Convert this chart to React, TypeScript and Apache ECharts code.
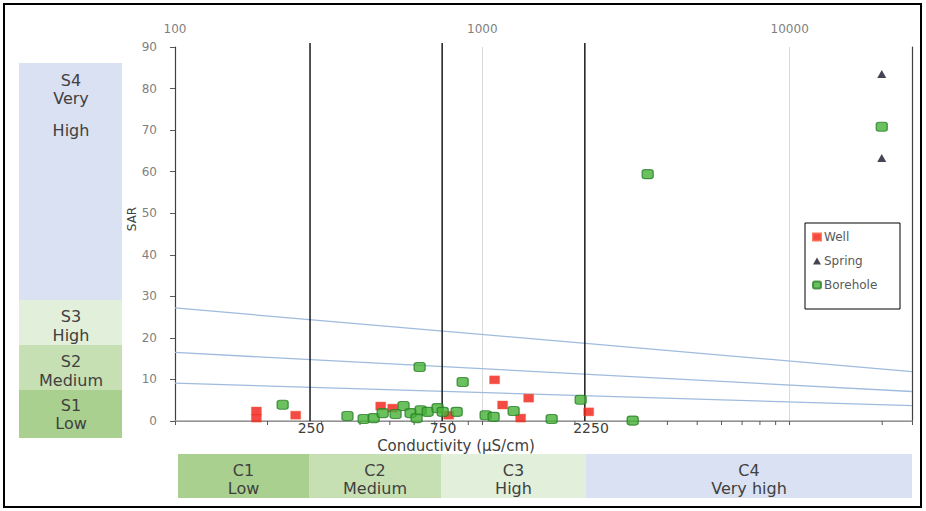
import React, { useEffect, useRef } from 'react';
import * as echarts from 'echarts';

// ---------- data ----------
const wellEC = [184, 184, 247, 467, 511, 777, 1096, 1164, 1332, 1415, 2218];
const wellSAR = [2.4, 0.7, 1.4, 3.6, 3.1, 1.4, 9.9, 3.85, 0.7, 5.5, 2.2];

const springEC = [19930, 19930];
const springSAR = [83.5, 63.3];

const boreholeEC = [224, 364, 411, 443, 474, 522, 554, 584, 611, 630, 664, 715, 743, 625, 825, 863, 1025, 1088, 1264, 1681, 2089, 3084, 3451, 19930];
const boreholeSAR = [3.9, 1.2, 0.5, 0.7, 1.9, 1.7, 3.6, 1.9, 0.7, 2.6, 2.2, 3.1, 2.2, 13.0, 2.2, 9.4, 1.4, 1.0, 2.4, 0.5, 5.1, 0.1, 59.4, 70.8];

// class boundaries of conductivity (as drawn) and their labels
const classBoundaryEC = [275, 740, 2155];
const boundaryLabels = ['250', '750', '2250'];

// sodium hazard boundary lines: SAR at EC = 100 and EC = 25000
const hazardLineEC = [100, 25000];
const hazardLineSAR = [
  [27.2, 11.9],
  [16.5, 7.1],
  [9.1, 3.7],
];

const topTickLabels = [100, 1000, 10000];
const minorTickEC = [200, 300, 400, 500, 600, 700, 800, 900, 2000, 3000, 4000, 5000, 6000, 7000, 8000, 9000, 20000];

const sodiumCodes = ['S4', 'S3', 'S2', 'S1'];
const sodiumNames = [['Very', 'High'], ['High'], ['Medium'], ['Low']];
const salinityCodes = ['C1', 'C2', 'C3', 'C4'];
const salinityNames = ['Low', 'Medium', 'High', 'Very high'];

// ---------- styles / layout ----------
const FONT = '"DejaVu Sans", sans-serif';
const TEXT_DARK = '#404040';
const TICK_GRAY = '#7f7f7f';
const classColors = ['#a9d08e', '#c6e0b4', '#e2efda', '#d9e1f2']; // low -> very high

const textStyle = (text: string, size: number, fill = TEXT_DARK) => ({
  text,
  fill,
  font: `${size}px ${FONT}`,
  align: 'center',
  verticalAlign: 'middle',
  textAlign: 'center',
  textVerticalAlign: 'middle',
});

const App: React.FC = () => {
  const ref = useRef<HTMLDivElement>(null);

  useEffect(() => {
    if (!ref.current) return;
    const chart = echarts.init(ref.current, undefined, { renderer: 'svg' });

    const zip = (xs: number[], ys: number[]) => xs.map((x, i) => [x, ys[i]]);

    // left sodium boxes (S4..S1)
    const sBoxes = [
      { y0: 63, y1: 300, color: classColors[3], lines: [80, 98, 130] },
      { y0: 300, y1: 345, color: classColors[2], lines: [316, 335] },
      { y0: 345, y1: 390, color: classColors[1], lines: [361, 380] },
      { y0: 390, y1: 438, color: classColors[0], lines: [405, 423] },
    ];
    const graphics: any[] = [];
    graphics.push({
      type: 'rect',
      shape: { x: 4, y: 4, width: 917, height: 503 },
      style: { fill: 'transparent', stroke: '#000', lineWidth: 2 },
      silent: true,
    });
    sBoxes.forEach((b, i) => {
      graphics.push({
        type: 'rect',
        shape: { x: 19, y: b.y0, width: 103, height: b.y1 - b.y0 },
        style: { fill: b.color },
        silent: true,
      });
      const texts = [sodiumCodes[i], ...sodiumNames[i]];
      texts.forEach((t, k) => {
        graphics.push({ type: 'text', x: 71, y: b.lines[k], style: textStyle(t, 16), silent: true });
      });
    });
    // bottom salinity boxes
    const cEdges = [178, 309, 441, 586, 912];
    salinityCodes.forEach((c, i) => {
      const x0 = cEdges[i];
      const x1 = cEdges[i + 1];
      graphics.push({
        type: 'rect',
        shape: { x: x0, y: 454, width: x1 - x0, height: 44 },
        style: { fill: classColors[i] },
        silent: true,
      });
      [c, salinityNames[i]].forEach((t, k) => {
        graphics.push({
          type: 'text',
          x: (x0 + x1) / 2,
          y: k === 0 ? 470 : 488,
          style: textStyle(t, 16),
          silent: true,
        });
      });
    });
    // boundary labels under the axis
    const labelX = [311, 443, 591];
    boundaryLabels.forEach((t, i) => {
      graphics.push({ type: 'text', x: labelX[i], y: 428, style: textStyle(t, 14), z: 10, silent: true });
    });
    // axis titles
    graphics.push({ type: 'text', x: 456, y: 446, style: textStyle('Conductivity (µS/cm)', 15), silent: true });
    graphics.push({
      type: 'text',
      x: 132,
      y: 219,
      rotation: Math.PI / 2,
      style: textStyle('SAR', 12),
      silent: true,
    });
    // legend frame
    graphics.push({
      type: 'rect',
      shape: { x: 805, y: 223, width: 95, height: 86 },
      style: { fill: 'transparent', stroke: '#000', lineWidth: 1 },
      silent: true,
    });

    const option: any = {
      animation: false,
      backgroundColor: '#fff',
      textStyle: { fontFamily: FONT },
      grid: { left: 175, right: 14, top: 47, bottom: 90, containLabel: false },
      legend: {
        data: ['Well', 'Spring', 'Borehole'],
        orient: 'vertical',
        left: 812,
        top: 231,
        itemWidth: 8,
        itemHeight: 7,
        itemGap: 12,
        padding: 0,
        textStyle: { fontSize: 12, color: '#595959', fontFamily: FONT, padding: [0, 0, 0, -2] },
      },
      xAxis: [
        {
          type: 'log',
          logBase: 10,
          position: 'bottom',
          min: 100,
          max: 25000,
          axisLine: { show: true, lineStyle: { color: '#595959', width: 1 } },
          axisTick: { show: true, length: 4, lineStyle: { color: '#595959' } },
          axisLabel: { show: false },
          splitLine: { show: true, lineStyle: { color: '#d9d9d9', width: 1 } },
        },
        {
          type: 'log',
          logBase: 10,
          position: 'top',
          min: 100,
          max: 25000,
          axisLine: { show: true, lineStyle: { color: '#a6a6a6', width: 1.5 } },
          axisTick: { show: false },
          axisLabel: {
            show: true,
            color: TICK_GRAY,
            fontSize: 12,
            fontFamily: FONT,
            margin: 12,
            formatter: (v: number) => {
              const r = Math.round(v);
              return topTickLabels.includes(r) ? String(r) : '';
            },
          },
          splitLine: { show: false },
        },
      ],
      yAxis: [
        {
          type: 'value',
          position: 'left',
          min: 0,
          max: 90,
          interval: 10,
          axisLine: { show: true, lineStyle: { color: '#404040', width: 1.2 } },
          axisTick: { show: true, length: 5, lineStyle: { color: '#595959' } },
          axisLabel: { color: TICK_GRAY, fontSize: 12, fontFamily: FONT, margin: 18 },
          splitLine: { show: false },
        },
        {
          type: 'value',
          position: 'right',
          min: 0,
          max: 90,
          interval: 10,
          axisLine: { show: true, lineStyle: { color: '#404040', width: 1.2 } },
          axisTick: { show: false },
          axisLabel: { show: false },
          splitLine: { show: false },
        },
      ],
      graphic: { elements: graphics },
      series: [
        ...hazardLineSAR.map((ys, i) => ({
          name: 'hazard' + i,
          type: 'line',
          data: zip(hazardLineEC, ys),
          symbol: 'none',
          silent: true,
          lineStyle: { color: '#9fbbdd', width: 1.3 },
          z: 1,
        })),
        {
          name: 'boundaries',
          type: 'custom',
          silent: true,
          clip: false,
          z: 2,
          data: classBoundaryEC.map((v) => [v]),
          renderItem: (_p: any, api: any) => {
            const a = api.coord([api.value(0), 0]);
            const b = api.coord([api.value(0), 90]);
            return {
              type: 'line',
              shape: { x1: a[0], y1: a[1], x2: b[0], y2: b[1] - 4 },
              style: { stroke: '#1a1a1a', lineWidth: 1.5 },
            };
          },
        },
        {
          name: 'minorTicks',
          type: 'custom',
          silent: true,
          clip: false,
          z: 2,
          data: minorTickEC.map((v) => [v]),
          renderItem: (_p: any, api: any) => {
            const a = api.coord([api.value(0), 0]);
            return {
              type: 'line',
              shape: { x1: a[0], y1: a[1], x2: a[0], y2: a[1] + 4 },
              style: { stroke: '#595959', lineWidth: 1 },
            };
          },
        },
        {
          name: 'Well',
          type: 'scatter',
          data: zip(wellEC, wellSAR),
          symbol: 'rect',
          symbolSize: [10, 8],
          itemStyle: { color: '#f01e14', borderColor: '#ff5a3c', borderWidth: 0.5 },
          z: 5,
        },
        {
          name: 'Spring',
          type: 'scatter',
          data: zip(springEC, springSAR),
          symbol: 'triangle',
          symbolSize: [9, 8],
          itemStyle: { color: '#15152a' },
          z: 5,
        },
        {
          name: 'Borehole',
          type: 'scatter',
          data: zip(boreholeEC, boreholeSAR),
          symbol: 'roundRect',
          symbolSize: [11, 9],
          itemStyle: { color: '#45b236', borderColor: '#2a7f2a', borderWidth: 1.2 },
          z: 6,
        },
      ],
    };

    chart.setOption(option);
    return () => chart.dispose();
  }, []);

  return (
    <div
      ref={ref}
      style={{ position: 'absolute', left: 0, top: 0, width: 926, height: 511, background: '#fff' }}
    />
  );
};

export default App;
